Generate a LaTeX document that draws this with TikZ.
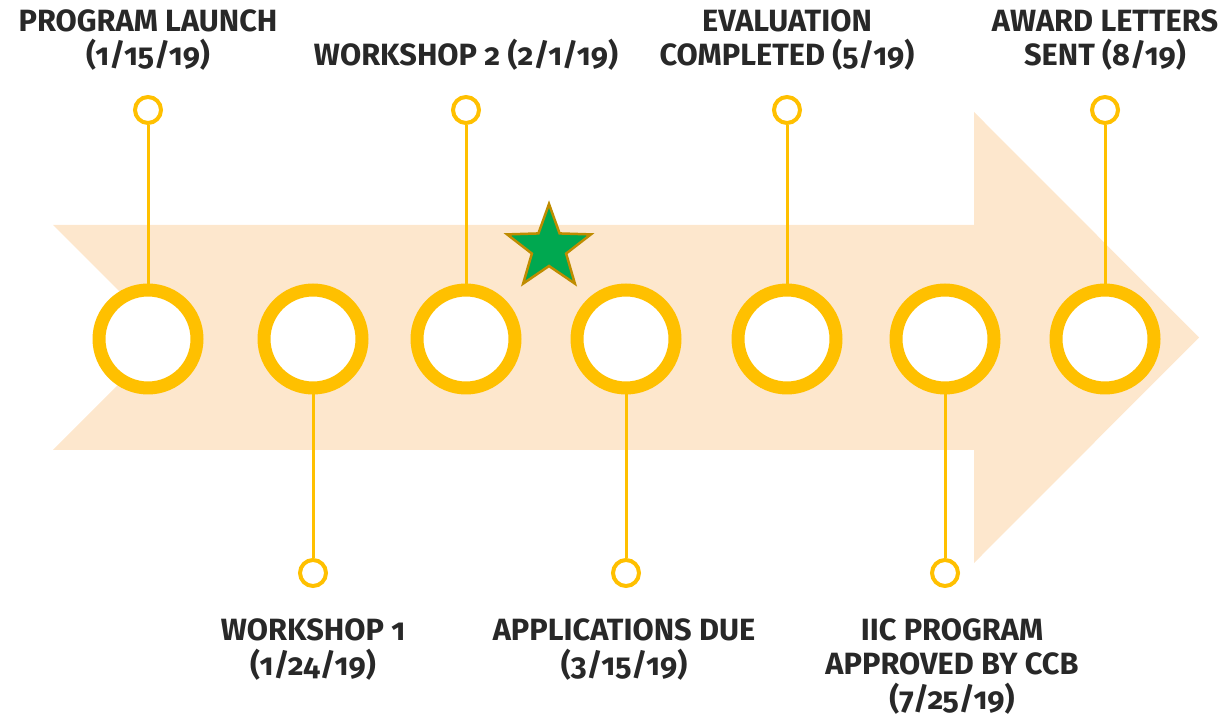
\documentclass[tikz,border=0pt]{standalone}
\usepackage{fontspec}
\setmainfont{Fira Sans}[Numbers=OldStyle]
\usetikzlibrary{positioning}

\definecolor{ringgold}{RGB}{255,192,0}
\definecolor{peach}{RGB}{253,231,205}
\definecolor{stargreen}{RGB}{0,168,80}
\definecolor{staredge}{RGB}{191,140,0}
\definecolor{inkgray}{RGB}{40,40,40}

\begin{document}
\begin{tikzpicture}[x=0.02cm,y=0.02cm,
  bigring/.style={circle,draw=ringgold,line width=0.26cm,fill=white,minimum size=1.96cm,inner sep=0pt},
  smallring/.style={circle,draw=ringgold,line width=0.08cm,fill=white,minimum size=0.52cm,inner sep=0pt},
  stem/.style={draw=ringgold,line width=0.06cm},
  milestone/.style={anchor=base,align=center,text=inkgray,font=\bfseries\fontsize{17.5}{19.5}\selectfont}]

\useasboundingbox (0,0) rectangle (1226,-715);

% arrow
\fill[peach] (53,-225) -- (974,-225) -- (974,-112) -- (1199,-337.5) -- (974,-563)
  -- (974,-450) -- (53,-450) -- (165.5,-337.5) -- cycle;

% star
\begin{scope}[shift={(549,-248)}]
\draw[fill=stargreen,draw=staredge,line width=0.05cm,line join=miter]
  (90:44) \foreach \k in {1,...,9} { -- ({90+36*\k}:{ifthenelse(mod(\k,2)==0,44,18)}) } -- cycle;
\end{scope}

% rings on the arrow
\node[bigring] (b1) at (148,-339) {};
\node[bigring] (b2) at (313,-339) {};
\node[bigring] (b3) at (466,-339) {};
\node[bigring] (b4) at (626,-339) {};
\node[bigring] (b5) at (787,-339) {};
\node[bigring] (b6) at (945,-339) {};
\node[bigring] (b7) at (1105,-339) {};

% small rings
\node[smallring] (s1) at (148,-110) {};
\node[smallring] (s2) at (313,-573) {};
\node[smallring] (s3) at (466,-110) {};
\node[smallring] (s4) at (626,-573) {};
\node[smallring] (s5) at (787,-110) {};
\node[smallring] (s6) at (945,-573) {};
\node[smallring] (s7) at (1105,-110) {};

\foreach \i in {1,...,7}
  \draw[stem] (b\i) -- (s\i);

% texts (base = last line)
\node[milestone] (t1) at (148,-66) {PROGRAM LAUNCH\\(1/15/19)};
\node[milestone] (t2) at (313,-675) {WORKSHOP 1\\(1/24/19)};
\node[milestone] (t3) at (466,-66) {WORKSHOP 2 (2/1/19)};
\node[milestone] (t4) at (624,-675) {APPLICATIONS DUE\\(3/15/19)};
\node[milestone] (t5) at (787,-66) {EVALUATION\\COMPLETED (5/19)};
\node[milestone] (t6) at (952,-709) {IIC PROGRAM\\APPROVED BY CCB\\(7/25/19)};
\node[milestone] (t7) at (1105,-66) {AWARD LETTERS\\SENT (8/19)};

\end{tikzpicture}
\end{document}
